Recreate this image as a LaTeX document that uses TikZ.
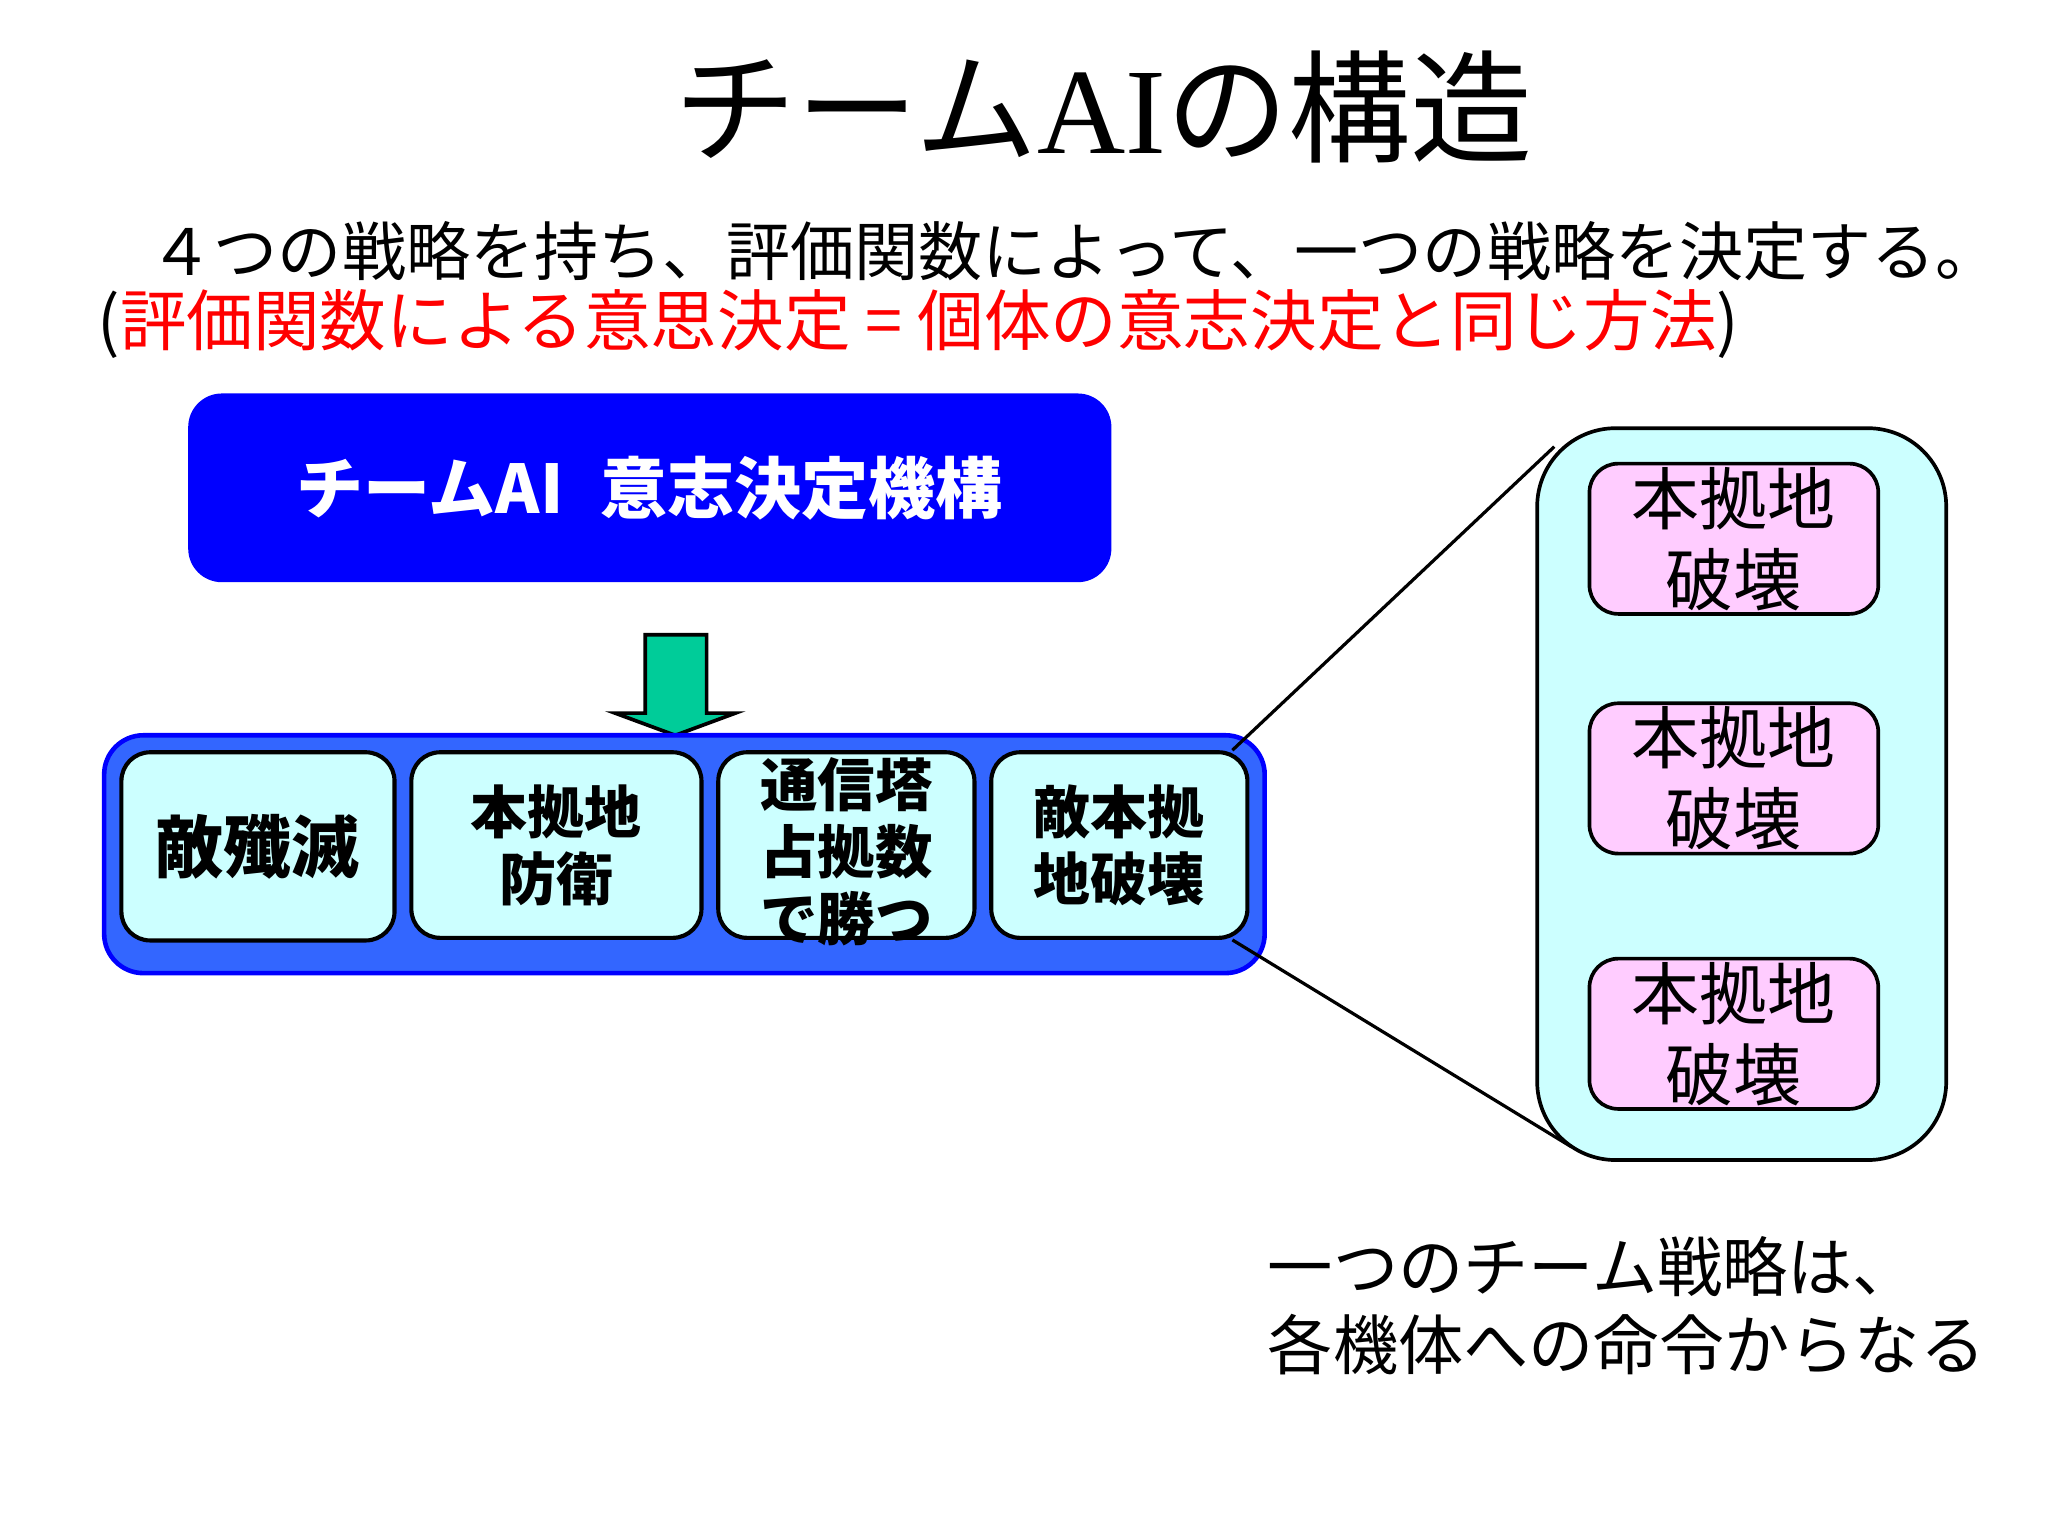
\documentclass[tikz,border=0pt]{standalone}
\usepackage{fontspec}
\setmainfont{Noto Sans CJK JP}
\newfontfamily\latinserif{Liberation Serif}
\usetikzlibrary{positioning}

\begin{document}
\begin{tikzpicture}[
        x = 0.01cm,
        y = -0.01cm,
        font = \fontsize{14pt}{17pt}\selectfont
    ]

        \definecolor{deciderblue}{RGB}{0,0,255}
        \definecolor{barblue}{RGB}{51,102,255}
        \definecolor{boxcyan}{RGB}{204,255,255}
        \definecolor{orderpink}{RGB}{255,204,255}
        \definecolor{arrowgreen}{RGB}{0,204,153}

        \tikzset{%
            deciderbox/.style = {%
                rectangle,
                rounded corners = 0.25cm,
                fill            = deciderblue,
                draw            = deciderblue,
                text            = white,
                minimum width   = 7.05cm,
                minimum height  = 1.43cm,
                font            = \bfseries\fontsize{14.6pt}{17pt}\selectfont
            },
            strategybar/.style = {%
                rectangle,
                rounded corners = 0.3cm,
                fill            = barblue,
                draw            = deciderblue,
                line width      = 1pt,
                minimum width   = 8.88cm,
                minimum height  = 1.82cm
            },
            strategybox/.style = {%
                rectangle,
                rounded corners = 0.22cm,
                fill            = boxcyan,
                draw            = black,
                line width      = 0.9pt,
                minimum width   = 1.96cm,
                minimum height  = 1.42cm,
                align           = center,
                inner sep       = 0pt,
                font            = \bfseries\fontsize{12.4pt}{14.6pt}\selectfont
            },
            orderpanel/.style = {%
                rectangle,
                rounded corners = 0.6cm,
                fill            = boxcyan,
                draw            = black,
                line width      = 0.8pt,
                minimum width   = 3.13cm,
                minimum height  = 5.6cm
            },
            orderbox/.style = {%
                rectangle,
                rounded corners = 0.22cm,
                fill            = orderpink,
                draw            = black,
                line width      = 0.8pt,
                minimum width   = 2.21cm,
                minimum height  = 1.15cm,
                align           = center,
                inner sep       = 0pt,
                font            = \fontsize{14.8pt}{17.6pt}\selectfont
            }
        }

        \useasboundingbox (0, 0) rectangle (1568, 1176);
        \fill[white] (0, 0) rectangle (1568, 1176);

        % Heading and explanation
        \node[font = \fontsize{26.6pt}{31pt}\selectfont] (title) at (845, 82) {チーム{\latinserif AI}の構造};
        \node[anchor = west, inner sep = 0pt, font = \fontsize{13.95pt}{16pt}\selectfont] (summary) at (114, 192)
            {４つの戦略を持ち、評価関数によって、一つの戦略を決定する。};
        \node[anchor = west, inner sep = 0pt, font = \fontsize{14.5pt}{17pt}\selectfont] (remark) at (74, 248)
            {(\textcolor{red}{評価関数による意思決定 = 個体の意志決定と同じ方法})};

        % Team decision maker
        \node[deciderbox] (decider) at (497.5, 373.5) {チームAI\hspace{0.55em}意志決定機構};

        \fill[%
            arrowgreen,
            draw       = black,
            line width = 0.8pt
        ] (494, 486) -- (541, 486) -- (541, 546) -- (563, 546)
            -- (517, 563) -- (471, 546) -- (494, 546) -- cycle;

        % Four team strategies
        \node[strategybar] (bar) at (524, 654) {};
        \node[strategybox, minimum width = 2.09cm, minimum height = 1.44cm,
            font = \bfseries\fontsize{14.8pt}{17pt}\selectfont] (annihilate) at (197.5, 648) {敵殲滅};
        \node[strategybox, minimum width = 2.22cm] (defend) at (426, 647) {本拠地\\防衛};
        \node[strategybox] (tower) at (648, 647) {};
        \node[align = center, inner sep = 0pt, font = \bfseries\fontsize{12.5pt}{14.65pt}\selectfont]
            (towertext) at (648, 652) {通信塔\\占拠数\\で勝つ};
        \node[strategybox] (raid) at (857, 647) {敵本拠\\地破壊};

        % Orders to each unit
        \node[orderpanel] (panel) at (1333.5, 608) {};
        \foreach \y/\name in {412.5/orderA, 596/orderB, 791.5/orderC} {
            \node[orderbox] (\name) at (1327.5, \y) {本拠地\\破壊};
        }

        \coordinate (zoomtop) at (1190, 342);
        \coordinate (zoombottom) at (1203, 878);
        \draw[line width = 0.7pt] (raid.40) -- (zoomtop);
        \draw[line width = 0.7pt] (raid.-40) -- (zoombottom);

        \node[anchor = west, align = left, inner sep = 0pt, font = \fontsize{14.2pt}{17pt}\selectfont]
            (caption) at (970, 1000) {一つのチーム戦略は、\\各機体への命令からなる};

    \end{tikzpicture}
\end{document}
